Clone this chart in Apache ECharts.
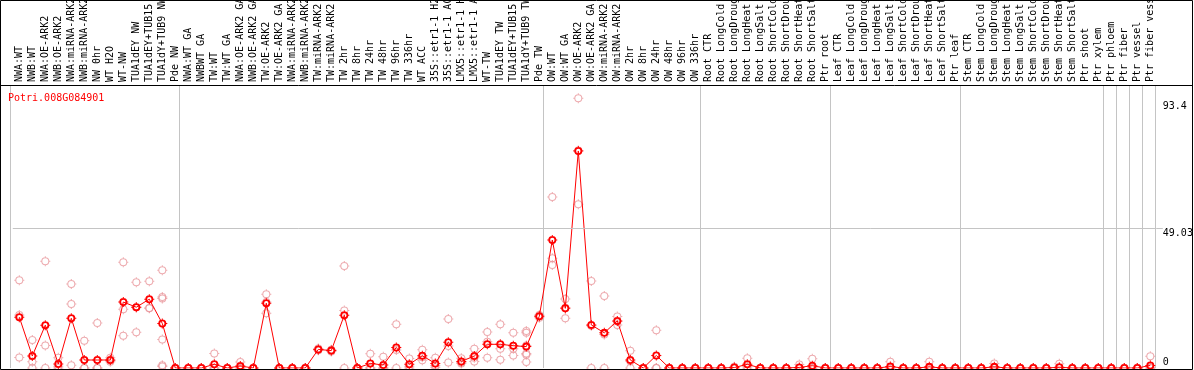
<!DOCTYPE html>
<html><head><meta charset="utf-8">
<script src="https://cdn.jsdelivr.net/npm/echarts@6/dist/echarts.min.js"></script>
<style>html,body{margin:0;padding:0;background:#fff}#c{width:1194px;height:370px}</style>
</head><body><div id="c"></div>
<script>
const geneId = 'Potri.008G084901';

const categories = [
  'NWA:WT','NWB:WT','NWA:OE-ARK2','NWB:OE-ARK2','NWA:miRNA-ARK2','NWB:miRNA-ARK2','NW 0hr','WT H2O','WT-NW','TUA1dEY NW','TUA1dEY+TUB15 NW','TUA1dY+TUB9 NW','Pde NW',
  'NWA:WT GA','NWBWT GA','TW:WT','TW:WT GA','NWA:OE-ARK2 GA','NWB:OE-ARK2 GA','TW:OE-ARK2','TW:OE-ARK2 GA','NWA:miRNA-ARK2','NWB:miRNA-ARK2','TW:miRNA-ARK2','TW:miRNA-ARK2','TW 2hr','TW 8hr','TW 24hr','TW 48hr','TW 96hr','TW 336hr','WT ACC','35S::etr1-1 H2O','35S::etr1-1 ACC','LMX5::etr1-1 H2O','LMX5::etr1-1 ACC','WT-TW','TUA1dEY TW','TUA1dEY+TUB15 TW','TUA1dY+TUB9 TW','Pde TW',
  'OW:WT','OW:WT GA','OW:OE-ARK2','OW:OE-ARK2 GA','OW:miRNA-ARK2','OW:miRNA-ARK2','OW 2hr','OW 8hr','OW 24hr','OW 48hr','OW 96hr','OW 336hr',
  'Root CTR','Root LongCold','Root LongDrought','Root LongHeat','Root LongSalt','Root ShortCold','Root ShortDrought','Root ShortHeat','Root ShortSalt','Ptr root',
  'Leaf CTR','Leaf LongCold','Leaf LongDrought','Leaf LongHeat','Leaf LongSalt','Leaf ShortCold','Leaf ShortDrought','Leaf ShortHeat','Leaf ShortSalt','Ptr leaf',
  'Stem CTR','Stem LongCold','Stem LongDrought','Stem LongHeat','Stem LongSalt','Stem ShortCold','Stem ShortDrought','Stem ShortHeat','Stem ShortSalt','Ptr shoot','Ptr xylem',
  'Ptr phloem','Ptr fiber','Ptr vessel','Ptr fiber vessel'
];

// index of the first category of each sample group (group separators)
const groupStarts = [0, 13, 41, 53, 63, 73, 84, 85, 86, 87];

const meanValues = [
  17.8, 4.2, 15.0, 1.4, 17.4, 2.8, 2.8, 2.8, 23.1, 21.3, 24.1, 15.6, 0,
  0, 0, 1.3, 0, 0.7, 0, 22.7, 0, 0, 0, 6.5, 6.1, 18.5, 0, 1.6, 1.05, 7.2, 1.3, 4.3, 1.6, 9.0, 2.3, 4.2, 8.3, 8.3, 7.8, 7.5, 18.1,
  44.8, 20.9, 76.0, 15.1, 12.3, 16.5, 2.8, 0, 4.4, 0, 0, 0,
  0, 0, 0.15, 1.3, 0, 0, 0, 0.2, 0.8, 0,
  0, 0, 0, 0, 0.5, 0, 0, 0.4, 0, 0,
  0, 0, 0.4, 0, 0, 0, 0, 0.25, 0, 0, 0,
  0, 0, 0, 0.9
];

const replicateValues = [
  [30.7, 18.6, 3.7], [9.8, 2.2, 0], [37.4, 7.9, 0], [3.6, 0.6, 0], [29.4, 22.4, 1.0], [9.5, 0, 0], [15.8, 0, 0], [3.6, 2.6, 2.2],
  [37.0, 20.6, 11.3], [30.0, 21.3, 12.5], [30.4, 21.0, 20.9], [34.2, 24.9, 24.3, 10.0, 1.0, 0.5], [0, 0, 0],
  [0, 0, 0], [0, 0, 0], [5.1, 0, 0], [0, 0, 0], [2.1, 0, 0], [0, 0, 0], [25.8, 23.1, 19.2], [0, 0, 0], [0, 0, 0], [0, 0, 0],
  [6.8, 6.5, 6.2], [6.4, 6.1, 5.8], [35.7, 20.1, 0], [0, 0, 0], [5.0, 0, 0], [3.9, 0, 0], [15.3, 6.3, 0], [3.3, 0.6, 0],
  [6.4, 3.8, 2.7], [3.6, 0.9, 0.3], [17.2, 7.7, 1.9], [3.4, 1.9, 1.6], [6.7, 3.6, 2.3], [12.6, 9.2, 3.6], [15.3, 6.7, 2.9],
  [12.3, 6.7, 4.4], [13.0, 12.3, 7.9, 5.1, 4.6, 2.1], [18.6, 18.1, 17.6],
  [59.9, 38.4, 36.1], [24.2, 21.1, 17.4], [94.5, 76.2, 57.3], [30.5, 14.8, 0], [25.2, 11.7, 0], [18.0, 16.4, 15.1],
  [6.0, 2.4, 0], [0, 0, 0], [13.2, 0, 0], [0, 0, 0], [0, 0, 0], [0, 0, 0],
  [0, 0, 0], [0, 0, 0], [0.4, 0, 0], [3.4, 0.5, 0], [0, 0, 0], [0, 0, 0], [0, 0, 0], [1.2, 0, 0], [3.2, 0, 0], [0, 0, 0],
  [0, 0, 0], [0, 0, 0], [0, 0, 0], [0, 0, 0], [2.2, 0, 0], [0, 0, 0], [0, 0, 0], [2.2, 0, 0], [0, 0, 0], [0, 0, 0],
  [0, 0, 0], [0, 0, 0], [1.6, 0, 0], [0, 0, 0], [0, 0, 0], [0, 0, 0], [0, 0, 0], [1.5, 0, 0], [0, 0, 0], [0, 0, 0], [0, 0, 0],
  [0, 0, 0], [0, 0, 0], [0, 0, 0], [4.1, 0, 0]
];

const yTickValues = [0, 49.03, 93.4];
const yMax = 99.1;

const RED = '#ff0000', PINK = '#e8959a', GRAY = '#c4c4c4', FONT = 'DejaVu Sans Mono';
function ringPath(inner) {
  const a = (10 - inner), b = (10 + inner);
  return 'path://M2,10A8,8 0 1,1 18,10A8,8 0 1,1 2,10Z' +
    'M' + a + ',10A' + inner + ',' + inner + ' 0 1,0 ' + b + ',10A' + inner + ',' + inner + ' 0 1,0 ' + a + ',10Z' +
    'M9,0H11V3H9ZM9,17H11V20H9ZM0,9H3V11H0ZM17,9H20V11H17Z';
}
const isGroupStart = (idx) => groupStarts.indexOf(idx) >= 0;

const replicatePoints = [];
replicateValues.forEach((arr, i) => arr.forEach(v => replicatePoints.push([i, v])));

const chart = echarts.init(document.getElementById('c'), null, {renderer: 'canvas'});
chart.setOption({
  animation: false,
  backgroundColor: '#fff',
  title: {
    text: geneId, left: 8, top: 93, padding: 0,
    textStyle: {color: RED, fontFamily: FONT, fontSize: 10, fontWeight: 'normal'}
  },
  grid: [
    {left: 10, right: 38.7, top: 85, bottom: 2, containLabel: false, outerBoundsMode: 'none'},
    {left: 12.8, right: 37.2, top: 85, bottom: 2, containLabel: false, outerBoundsMode: 'none'}
  ],
  xAxis: [
    {
      gridIndex: 0, type: 'category', data: categories, position: 'top', boundaryGap: true,
      axisLine: {show: false}, axisLabel: {show: false},
      axisTick: {show: true, interval: isGroupStart, length: 85, lineStyle: {color: GRAY, width: 1}},
      splitLine: {show: true, interval: isGroupStart, lineStyle: {color: GRAY, width: 1}}
    },
    {
      gridIndex: 1, type: 'category', data: categories, position: 'top', boundaryGap: true,
      axisLine: {show: false}, axisTick: {show: false}, splitLine: {show: false},
      axisLabel: {interval: 0, rotate: 90, margin: 3, fontFamily: FONT, fontSize: 10, color: '#000', overflow: 'none', hideOverlap: false}
    }
  ],
  yAxis: [
    {gridIndex: 0, type: 'value', min: 0, max: yMax, show: false},
    {
      gridIndex: 1, type: 'value', min: 0, max: yMax, position: 'right',
      axisLine: {show: false}, splitLine: {show: false},
      axisTick: {show: true, customValues: [yTickValues[1]], length: 6, lineStyle: {color: GRAY}},
      axisLabel: {
        customValues: yTickValues, margin: 6, fontFamily: FONT, fontSize: 10, color: '#000', lineHeight: 11,
        formatter: (v) => (v === 0 ? '0\n' : '\n' + v)
      }
    }
  ],
  graphic: [
    {type: 'rect', silent: true, z: 100, shape: {x: 0.5, y: 0.5, width: 1192, height: 369}, style: {fill: 'none', stroke: '#000', lineWidth: 1}},
    {type: 'line', silent: true, z: 100, shape: {x1: 0, y1: 85.5, x2: 1193, y2: 85.5}, style: {stroke: '#000', lineWidth: 1}}
  ],
  series: [
    {
      type: 'scatter', xAxisIndex: 1, yAxisIndex: 1, data: replicatePoints,
      symbol: ringPath(6), symbolSize: 10, itemStyle: {color: PINK}, z: 2,
      markLine: {
        silent: true, symbol: 'none', label: {show: false}, animation: false,
        lineStyle: {color: GRAY, type: 'solid', width: 1},
        data: [{yAxis: yTickValues[1]}]
      }
    },
    {
      type: 'line', xAxisIndex: 1, yAxisIndex: 1, data: meanValues,
      symbol: ringPath(4.4), symbolSize: 10, showAllSymbol: true,
      lineStyle: {color: RED, width: 1}, itemStyle: {color: RED}, z: 3
    }
  ]
});
</script>
</body></html>
